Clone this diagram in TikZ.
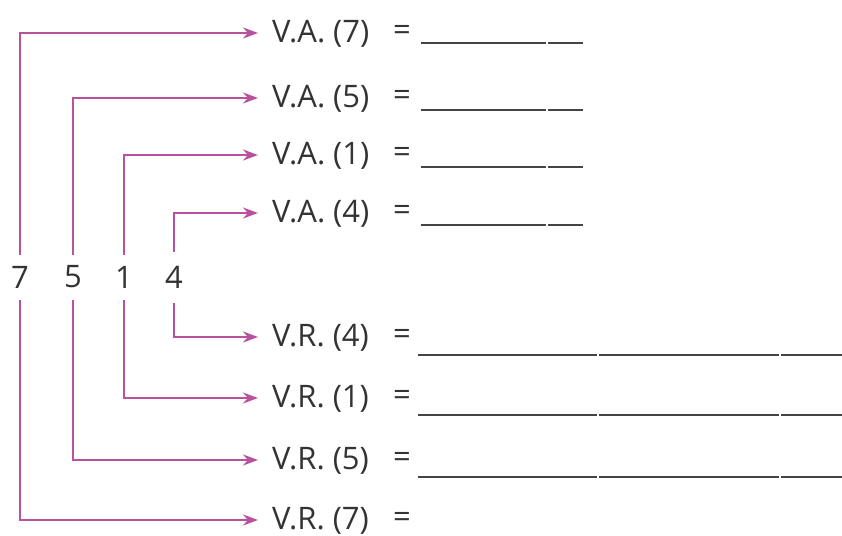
\documentclass[tikz,border=0pt]{standalone}
\usepackage{fontspec}
\setmainfont{Open Sans}
\usetikzlibrary{arrows.meta}
\definecolor{arr}{HTML}{B9519E}
\definecolor{txt}{HTML}{333333}
\definecolor{uline}{HTML}{444444}
\begin{document}
\begin{tikzpicture}[x=1pt,y=-1pt,
  conn/.style={draw=arr,line width=2pt,-{Stealth[length=15pt,width=11pt]}},
  lbl/.style={anchor=west,inner sep=0pt,text=txt,font=\fontsize{31}{31}\selectfont},
  eqs/.style={inner sep=0pt,text=txt,font=\fontsize{31}{31}\selectfont},
  dig/.style={inner sep=0pt,text=txt,font=\fontsize{31}{31}\selectfont},
  blank/.style={draw=uline,line width=1.6pt}]
\useasboundingbox (0,0) rectangle (842,535);
% digits
\node[dig] (d7) at (20,277) {7};
\node[dig] (d5) at (73,277) {5};
\node[dig] (d1) at (124,277) {1};
\node[dig] (d4) at (174,277) {4};
% labels
\foreach \n/\t/\y in {a7/{V.A. (7)}/33, a5/{V.A. (5)}/98, a1/{V.A. (1)}/155, a4/{V.A. (4)}/213,
  r4/{V.R. (4)}/337, r1/{V.R. (1)}/398, r5/{V.R. (5)}/460, r7/{V.R. (7)}/520}{
  \node[lbl] (\n) at (272,\y+1) {\t};
  \node[eqs] (e\n) at (402,\y) {=};
  \coordinate (t\n) at (258,\y);
}
% connectors
\coordinate (u7) at (20,255); \coordinate (l7) at (20,300);
\coordinate (u5) at (73,255); \coordinate (l5) at (73,300);
\coordinate (u1) at (124,255); \coordinate (l1) at (124,300);
\coordinate (u4) at (174,252); \coordinate (l4) at (174,303);
\draw[conn] (u7) |- (ta7);
\draw[conn] (u5) |- (ta5);
\draw[conn] (u1) |- (ta1);
\draw[conn] (u4) |- (ta4);
\draw[conn] (l4) |- (tr4);
\draw[conn] (l1) |- (tr1);
\draw[conn] (l5) |- (tr5);
\draw[conn] (l7) |- (tr7);
% blanks
\foreach \y in {43,110,167,225}{
  \draw[blank] (421,\y) -- (546,\y);
  \draw[blank] (548,\y) -- (583,\y);
}
\foreach \y in {355,415,477}{
  \draw[blank] (418,\y) -- (597,\y);
  \draw[blank] (599,\y) -- (779,\y);
  \draw[blank] (781,\y) -- (842,\y);
}
\end{tikzpicture}
\end{document}
